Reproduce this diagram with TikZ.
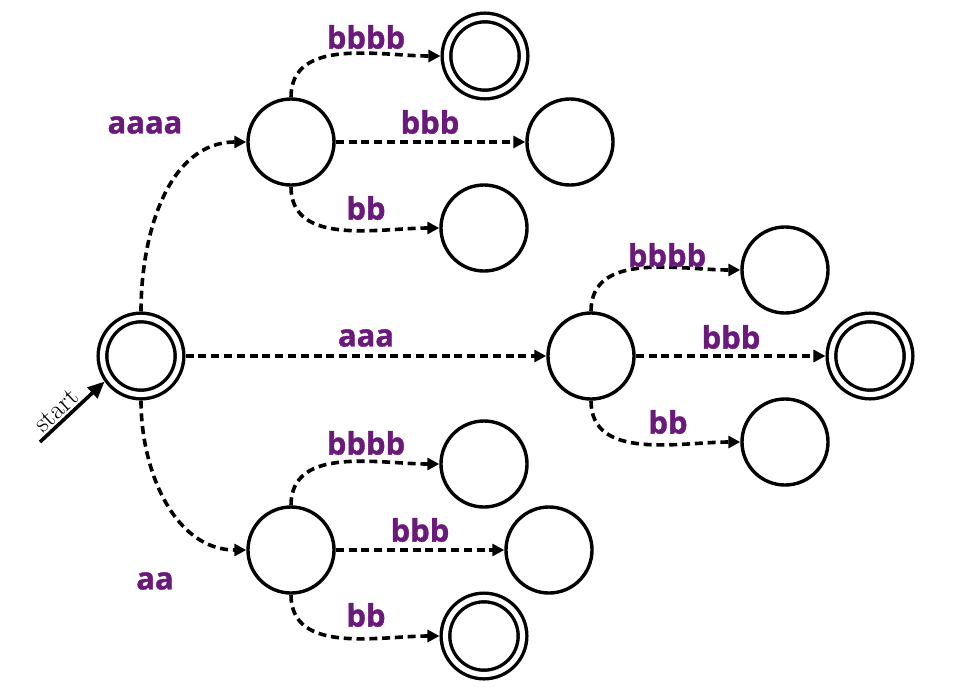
\documentclass[tikz,border=0pt]{standalone}
\usepackage{fontspec}
\newfontfamily\lblfont[BoldFeatures={FakeBold=1.2}]{Open Sans}
\usetikzlibrary{arrows.meta}
\definecolor{lblpurple}{RGB}{106,26,122}

\begin{document}
\begin{tikzpicture}[x=0.025cm,y=-0.025cm,
    state/.style={circle,draw,line width=0.085cm,minimum size=2.15cm,inner sep=0pt},
    accept/.style={circle,draw,line width=0.085cm,double,double distance=0.13cm,
        minimum size=1.925cm,inner sep=0pt,outer sep=0.15cm},
    trans/.style={line width=0.09cm,dash pattern=on 0.2cm off 0.12cm,
        -{Triangle[length=0.3cm,width=0.3cm]}},
    lbl/.style={font=\lblfont\bfseries\fontsize{22}{22}\selectfont,text=lblpurple}]
    \useasboundingbox (0,0) rectangle (967,698);
    %% states
    \node[accept] (q0) at (141,356) {};
    \node[state]  (a)  at (291,142) {};
    \node[accept] (a1) at (485,56)  {};
    \node[state]  (a2) at (570,142) {};
    \node[state]  (a3) at (484,228) {};
    \node[state]  (b)  at (591,356) {};
    \node[state]  (b1) at (785,270) {};
    \node[accept] (b2) at (870,356) {};
    \node[state]  (b3) at (785,442) {};
    \node[state]  (c)  at (291,550) {};
    \node[state]  (c1) at (484,464) {};
    \node[state]  (c2) at (549,550) {};
    \node[accept] (c3) at (484,636) {};
    %% start arrow
    \coordinate (in) at (40,442);
    \draw[line width=0.09cm,-{Triangle[length=0.42cm,width=0.36cm]}] (in)
        -- node[pos=0.38,sloped,above,inner sep=1pt,font=\fontsize{19}{19}\selectfont] {start} (q0.215);
    %% transitions out of the start state
    \draw[trans] (q0.north) to[out=90,in=180] (a.west);
    \draw[trans] (q0.east) -- (b.west);
    \draw[trans] (q0.south) to[out=-90,in=180] (c.west);
    %% transitions out of the three middle states
    \foreach \m in {a,b,c}{
        \draw[trans] (\m.north) to[out=90,in=180] (\m1.west);
        \draw[trans] (\m.east) -- (\m2.west);
        \draw[trans] (\m.south) to[out=-90,in=180] (\m3.west);
    }
    %% labels
    \node[lbl] (l-a)  at (145,125) {aaaa};
    \node[lbl] (l-b)  at (366,338) {aaa};
    \node[lbl] (l-c)  at (155,581) {aa};
    \node[lbl] (l-a1) at (366,37)  {bbbb};
    \node[lbl] (l-a2) at (430,122) {bbb};
    \node[lbl] (l-a3) at (366,208) {bb};
    \node[lbl] (l-b1) at (667,255) {bbbb};
    \node[lbl] (l-b2) at (731,337) {bbb};
    \node[lbl] (l-b3) at (668,422) {bb};
    \node[lbl] (l-c1) at (366,443) {bbbb};
    \node[lbl] (l-c2) at (420,530) {bbb};
    \node[lbl] (l-c3) at (366,615) {bb};
\end{tikzpicture}
\end{document}
